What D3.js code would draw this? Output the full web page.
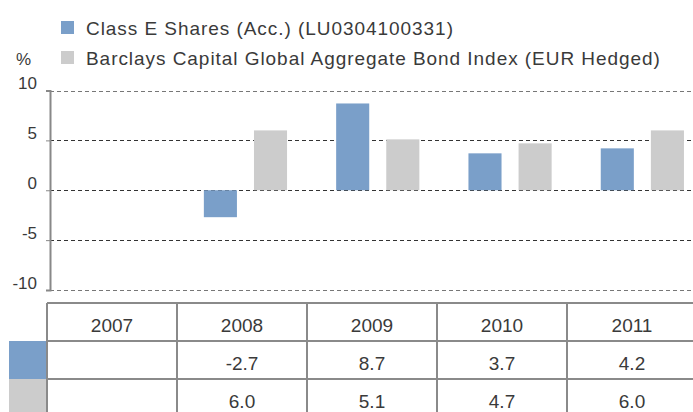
<!DOCTYPE html>
<html>
<head>
<meta charset="utf-8">
<script src="https://cdn.jsdelivr.net/npm/d3@7"></script>
<style>
  body { margin: 0; background: #fff; }
  text { font-family: "Liberation Sans", Arial, sans-serif; fill: #3a3a3a; }
</style>
</head>
<body>
<svg width="693" height="412"></svg>
<script>
// annual performance, % (2007 has no value)
const years = ['2007', '2008', '2009', '2010', '2011'];
const classE = [null, -2.7, 8.7, 3.7, 4.2];
const benchmark = [null, 6.0, 5.1, 4.7, 6.0];
const yTicks = [-10, -5, 0, 5, 10];
const seriesNames = ['Class E Shares (Acc.) (LU0304100331)', 'Barclays Capital Global Aggregate Bond Index (EUR Hedged)'];
const colors = ['#7a9fc9', '#cccccc'];

const svg = d3.select('svg');

const y = d3.scaleLinear().domain([-10, 10]).range([290, 90.5]);
const x0 = d3.scaleBand().domain(years).range([47, 708.5]);
const x1 = d3.scaleBand().domain([0, 1]).range([0, x0.bandwidth()])
    .paddingInner(0.34).paddingOuter(0.49);

// legend
const legend = svg.append('g');
seriesNames.forEach((name, i) => {
    legend.append('rect')
        .attr('x', 61).attr('y', 21 + i * 30)
        .attr('width', 13).attr('height', 13)
        .style('fill', colors[i]);
    legend.append('text')
        .attr('x', 86).attr('y', 35 + i * 30)
        .style('font-size', '19px')
        .style('letter-spacing', '0.95px')
        .text(name);
});
svg.append('text').attr('x', 16).attr('y', 65).style('font-size', '17px').text('%');

// grid lines
svg.append('g')
    .selectAll('line')
    .data(yTicks)
    .join('line')
    .attr('x1', 50).attr('x2', 693)
    .attr('y1', d => Math.round(y(d)) + 0.5).attr('y2', d => Math.round(y(d)) + 0.5)
    .style('stroke', d => Math.abs(d) === 10 ? '#777' : '#333')
    .style('stroke-width', 1)
    .style('stroke-dasharray', '4,3');

// y axis
const yAxis = svg.append('g')
    .attr('transform', 'translate(50,0)')
    .call(d3.axisLeft(y).tickValues(yTicks).tickSize(4).tickPadding(0).tickFormat(d => String(d)));
yAxis.select('.domain').style('stroke', '#888').style('stroke-width', 2);
yAxis.selectAll('.tick line').style('stroke', '#888');
yAxis.selectAll('.tick text')
    .attr('x', -13).attr('dy', null).attr('y', -2)
    .style('font-size', '17px')
    .style('font-family', '"Liberation Sans", Arial, sans-serif')
    .style('fill', '#3a3a3a');

// bars
const barData = [];
years.forEach((yr, i) => {
    [classE[i], benchmark[i]].forEach((v, s) => {
        if (v !== null) barData.push({ year: yr, s, v });
    });
});
svg.append('g')
    .selectAll('rect')
    .data(barData)
    .join('rect')
    .attr('x', d => x0(d.year) + x1(d.s))
    .attr('width', x1.bandwidth())
    .attr('y', d => y(Math.max(0, d.v)))
    .attr('height', d => Math.abs(y(d.v) - y(0)))
    .style('fill', d => colors[d.s]);

// data table
const tx = d3.scaleBand().domain(years).range([47, 697]);
const rowY = [303, 341, 379, 417];
const table = svg.append('g');

// row swatches
[0, 1].forEach(s => {
    table.append('rect')
        .attr('x', 9).attr('y', rowY[s + 1])
        .attr('width', 38).attr('height', rowY[s + 2] - rowY[s + 1])
        .style('fill', colors[s]);
});

// cell text
years.forEach((yr, i) => {
    const cx = tx(yr) + tx.bandwidth() / 2;
    table.append('text').attr('x', cx).attr('y', rowY[0] + 29)
        .attr('text-anchor', 'middle').style('font-size', '19px').text(yr);
    [classE[i], benchmark[i]].forEach((v, s) => {
        if (v === null) return;
        table.append('text').attr('x', cx).attr('y', rowY[s + 1] + 29)
            .attr('text-anchor', 'middle').style('font-size', '19px').text(v.toFixed(1));
    });
});

// table borders
rowY.forEach(ry => {
    table.append('line')
        .attr('x1', 47).attr('x2', 697).attr('y1', ry).attr('y2', ry)
        .style('stroke', '#8a8a8a').style('stroke-width', 2);
});
d3.range(years.length + 1).forEach(i => {
    const xx = 47 + i * tx.step();
    table.append('line')
        .attr('x1', xx).attr('x2', xx).attr('y1', rowY[0]).attr('y2', 412)
        .style('stroke', '#8a8a8a').style('stroke-width', 2);
});
</script>
</body>
</html>
